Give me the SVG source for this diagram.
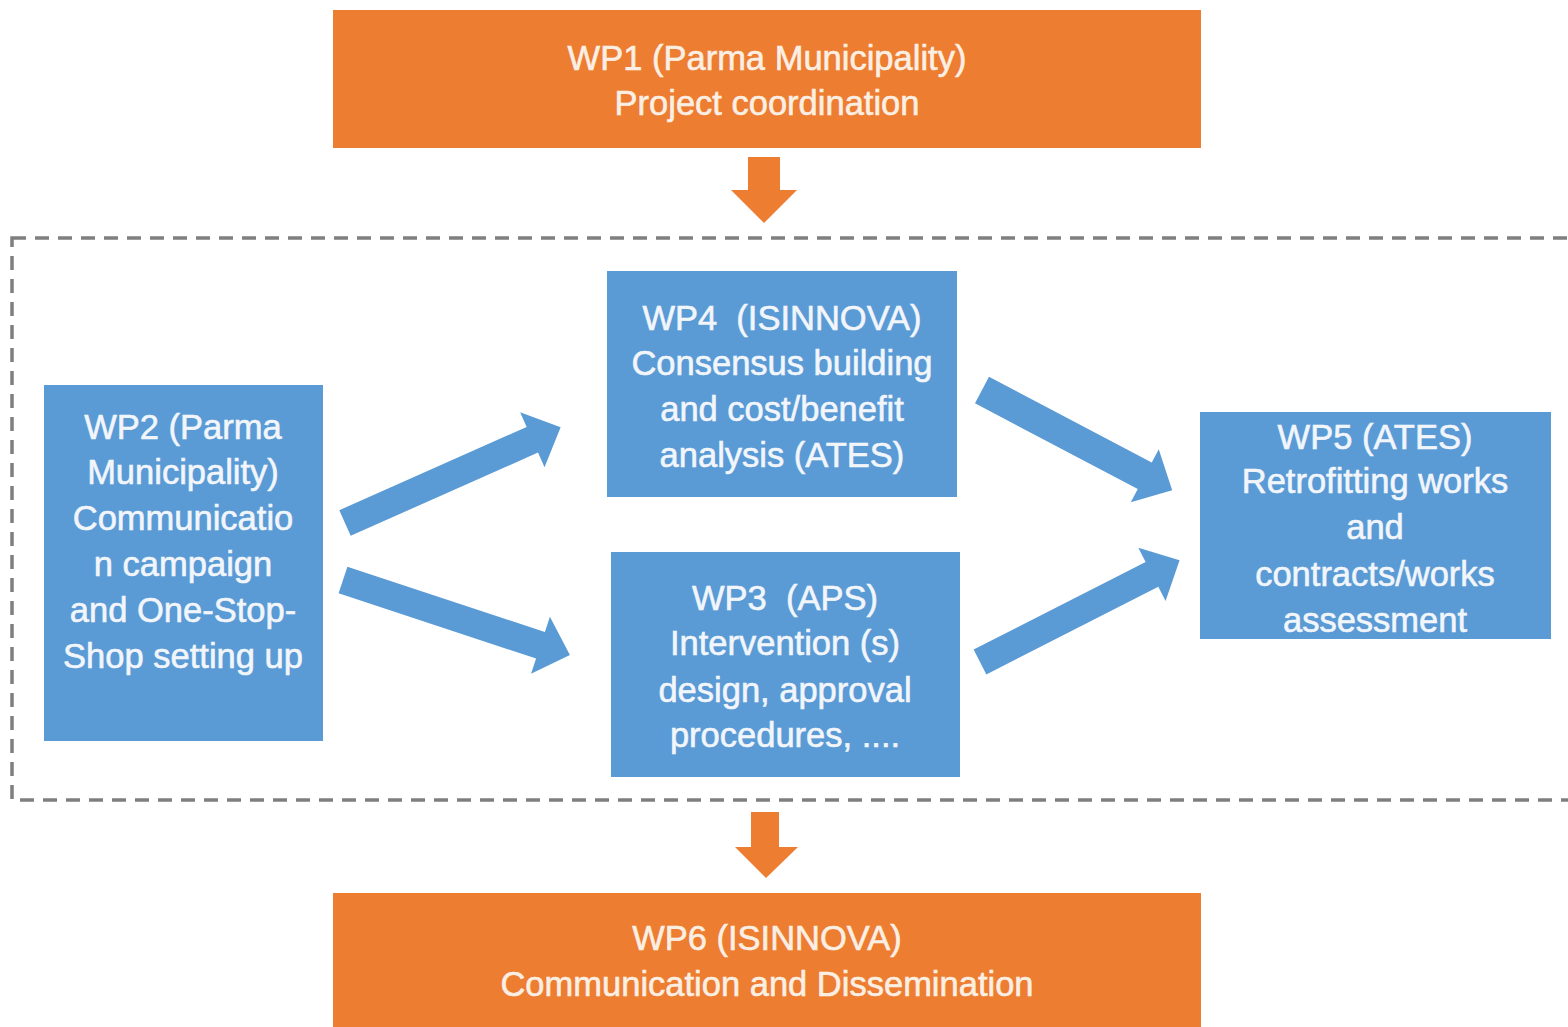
<svg xmlns="http://www.w3.org/2000/svg" width="1568" height="1027" viewBox="0 0 1568 1027">
<style>
.or{fill:#ED7D31}
.bl{fill:#5B9BD5}
.tx{font-family:"Liberation Sans",Arial,sans-serif;font-size:34.5px;text-anchor:middle;stroke-width:0.6}
.tor{fill:#FBEFE4;stroke:#FBEFE4}
.tbl{fill:#F2F6FB;stroke:#F2F6FB}
</style>
<rect width="1568" height="1027" fill="#ffffff"/>
<rect x="12" y="238" width="1570" height="562" fill="none" stroke="#7F7F7F" stroke-width="3.5" stroke-dasharray="14 9"/>
<g id="wp1">
<rect class="or" x="333" y="10" width="868" height="138"/>
<text class="tx tor" x="767" y="70">WP1 (Parma Municipality)</text>
<text class="tx tor" x="767" y="115">Project coordination</text>
</g>
<g id="wp2">
<rect class="bl" x="44" y="385" width="279" height="356"/>
<text class="tx tbl" x="183" y="439">WP2 (Parma</text>
<text class="tx tbl" x="183" y="484">Municipality)</text>
<text class="tx tbl" x="183" y="530">Communicatio</text>
<text class="tx tbl" x="183" y="576">n campaign</text>
<text class="tx tbl" x="183" y="622">and One-Stop-</text>
<text class="tx tbl" x="183" y="668">Shop setting up</text>
</g>
<g id="wp4">
<rect class="bl" x="607" y="271" width="350" height="226"/>
<text class="tx tbl" x="782" y="330" xml:space="preserve">WP4  (ISINNOVA)</text>
<text class="tx tbl" x="782" y="375">Consensus building</text>
<text class="tx tbl" x="782" y="421">and cost/benefit</text>
<text class="tx tbl" x="782" y="467">analysis (ATES)</text>
</g>
<g id="wp3">
<rect class="bl" x="611" y="552" width="349" height="225"/>
<text class="tx tbl" x="785" y="610" xml:space="preserve">WP3  (APS)</text>
<text class="tx tbl" x="785" y="655">Intervention (s)</text>
<text class="tx tbl" x="785" y="702">design, approval</text>
<text class="tx tbl" x="785" y="747">procedures, ....</text>
</g>
<g id="wp5">
<rect class="bl" x="1200" y="412" width="351" height="227"/>
<text class="tx tbl" x="1375" y="449">WP5 (ATES)</text>
<text class="tx tbl" x="1375" y="493">Retrofitting works</text>
<text class="tx tbl" x="1375" y="539">and</text>
<text class="tx tbl" x="1375" y="586">contracts/works</text>
<text class="tx tbl" x="1375" y="632">assessment</text>
</g>
<g id="wp6">
<rect class="or" x="333" y="893" width="868" height="140"/>
<text class="tx tor" x="767" y="950">WP6 (ISINNOVA)</text>
<text class="tx tor" x="767" y="996">Communication and Dissemination</text>
</g>
<g id="connectors">
<polygon class="or" points="748,157 780,157 780,190 797,190 764,223 731,190 748,190"/>
<polygon class="or" points="751,812 779,812 779,847 798,847 766,878 735,847 751,847"/>
<polygon class="bl" transform="translate(345,523) rotate(-23.96)" points="0,-14 205,-14 205,-30 236,0 205,30 205,14 0,14"/>
<polygon class="bl" transform="translate(343,580) rotate(18.3)" points="0,-14 208,-14 208,-30 239,0 208,30 208,14 0,14"/>
<polygon class="bl" transform="translate(982,390) rotate(27.8)" points="0,-15 184,-15 184,-30 215,0 184,30 184,15 0,15"/>
<polygon class="bl" transform="translate(980,662) rotate(-27)" points="0,-14 193,-14 193,-30 224,0 193,30 193,14 0,14"/>
</g>
</svg>
